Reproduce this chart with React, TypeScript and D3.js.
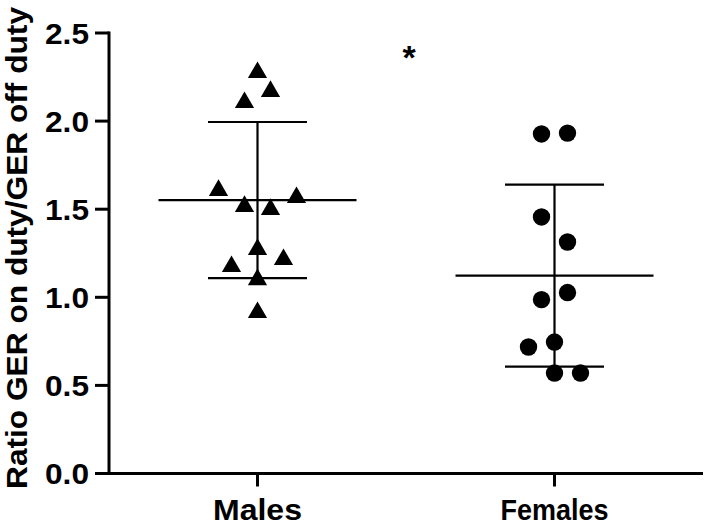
import React from "react";
import * as d3 from "d3";

const categories = ["Males", "Females"];
const maleValues = [2.284, 2.177, 2.114, 1.615, 1.524, 1.507, 1.575, 1.28, 1.223, 1.183, 1.109, 0.922];
const maleSlots = [0, 1, -1, -3, -1, 1, 3, 0, 2, -2, 0, 0];
const femaleValues = [1.927, 1.932, 1.456, 1.314, 1.027, 0.987, 0.746, 0.718, 0.57, 0.57];
const femaleSlots = [-1, 1, -1, 1, 1, -1, 0, -2, 0, 2];
const groupMeans = [1.552, 1.123];
const groupSDs = [0.443, 0.517];
const yTicks = [0, 0.5, 1, 1.5, 2, 2.5];
const yTitle = "Ratio GER on duty/GER off duty";
const significance = "*";

const W = 709;
const H = 526;
const FONT = "'Liberation Sans', Arial, sans-serif";

export default function App() {
  const x = d3.scalePoint<string>().domain(categories).range([109, 703]).padding(0.5);
  const y = d3.scaleLinear().domain([0, 2.5]).range([473.5, 33]);
  const slotW = 13;
  const groups = [
    { name: categories[0], values: maleValues, slots: maleSlots, shape: "triangle" },
    { name: categories[1], values: femaleValues, slots: femaleSlots, shape: "circle" },
  ];
  const tri = d3.symbol().type(d3.symbolTriangle).size(160)() as string;
  const x0 = x.range()[0];
  const x1 = x.range()[1];
  return (
    <svg width={W} height={H} style={{ position: "absolute", left: 0, top: 0, background: "#fff" }}>
      <rect width={W} height={H} fill="#fff" />
      {/* y axis */}
      <line x1={x0} x2={x0} y1={y(2.5) - 1.5} y2={y(0)} stroke="#000" strokeWidth={3} />
      {yTicks.map((t) => (
        <g key={t}>
          <line x1={x0 - 14} x2={x0} y1={y(t)} y2={y(t)} stroke="#000" strokeWidth={3} />
          <text
            x={x0 - 20}
            y={y(t) + 10.5}
            textAnchor="end"
            fontFamily={FONT}
            fontWeight="bold"
            fontSize={30}
            textLength={44}
            lengthAdjust="spacingAndGlyphs"
          >
            {t.toFixed(1)}
          </text>
        </g>
      ))}
      {/* x axis */}
      <line x1={x0 - 1.5} x2={x1} y1={y(0)} y2={y(0)} stroke="#000" strokeWidth={3} />
      {categories.map((c, i) => (
        <g key={c}>
          <line x1={x(c)!} x2={x(c)!} y1={y(0)} y2={y(0) + 13} stroke="#000" strokeWidth={3} />
          <text
            x={x(c)!}
            y={520}
            textAnchor="middle"
            fontFamily={FONT}
            fontWeight="bold"
            fontSize={30}
            textLength={i === 0 ? 89 : 108}
            lengthAdjust="spacingAndGlyphs"
          >
            {c}
          </text>
        </g>
      ))}
      {/* y title */}
      <text
        transform={`translate(27, 248) rotate(-90)`}
        textAnchor="middle"
        fontFamily={FONT}
        fontWeight="bold"
        fontSize={30}
        textLength={482}
        lengthAdjust="spacingAndGlyphs"
      >
        {yTitle}
      </text>
      {/* mean & SD */}
      {groups.map((g, i) => {
        const cx = x(g.name)!;
        const m = groupMeans[i];
        const s = groupSDs[i];
        return (
          <g key={g.name} stroke="#000" strokeWidth={2.2}>
            <line x1={cx - 99} x2={cx + 99} y1={y(m)} y2={y(m)} />
            <line x1={cx} x2={cx} y1={y(m + s)} y2={y(m - s)} />
            <line x1={cx - 49.5} x2={cx + 49.5} y1={y(m + s)} y2={y(m + s)} />
            <line x1={cx - 49.5} x2={cx + 49.5} y1={y(m - s)} y2={y(m - s)} />
          </g>
        );
      })}
      {/* points */}
      {groups.map((g) =>
        g.values.map((v, j) => {
          const px = x(g.name)! + g.slots[j] * slotW;
          const py = y(v);
          return g.shape === "circle" ? (
            <circle key={g.name + j} cx={px} cy={py} r={8.7} fill="#000" />
          ) : (
            <path key={g.name + j} d={tri} transform={`translate(${px},${py + 1.5})`} fill="#000" />
          );
        })
      )}
      <text x={409} y={69} textAnchor="middle" fontFamily={FONT} fontWeight="bold" fontSize={34}>
        {significance}
      </text>
    </svg>
  );
}
